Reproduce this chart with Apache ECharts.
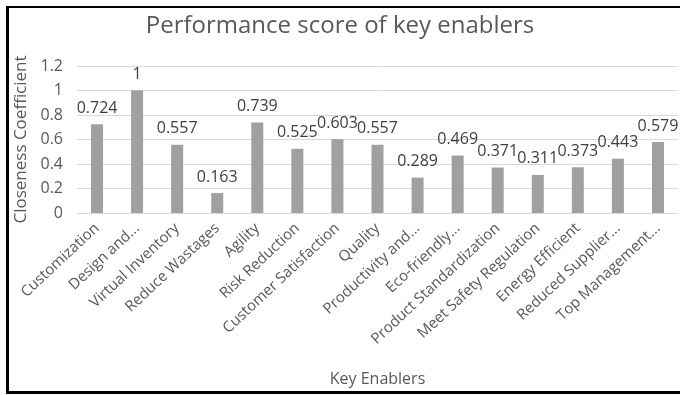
<!DOCTYPE html>
<html>
<head>
<meta charset="utf-8">
<script src="https://cdn.jsdelivr.net/npm/echarts@6/dist/echarts.min.js"></script>
<style>
  body { margin: 0; background: #fff; }
  #frame {
    position: absolute; left: 6px; top: 6px; width: 674px; height: 388px;
    border-left: 3px solid #000; border-top: 2px solid #000; border-bottom: 3px solid #000;
    box-sizing: border-box;
  }
  #chart { position: absolute; left: 0; top: 0; width: 680px; height: 395px; }
</style>
</head>
<body>
<div id="frame"></div>
<div id="chart"></div>
<script>
const categories = [
    'Customization', 'Design and...', 'Virtual Inventory', 'Reduce Wastages', 'Agility',
    'Risk Reduction', 'Customer Satisfaction', 'Quality', 'Productivity and...', 'Eco-friendly...',
    'Product Standardization', 'Meet Safety Regulation', 'Energy Efficient', 'Reduced Supplier...', 'Top Management...'
];
const scores = [0.724, 1, 0.557, 0.163, 0.739, 0.525, 0.603, 0.557, 0.289, 0.469, 0.371, 0.311, 0.373, 0.443, 0.579];
const yTicks = [0, 0.2, 0.4, 0.6, 0.8, 1, 1.2];

const font = '"Open Sans", "Noto Sans", sans-serif';
const myChart = echarts.init(document.getElementById('chart'));

const option = {
    animation: false,
    textStyle: { fontFamily: font },
    title: {
        text: 'Performance score of key enablers',
        left: 'center',
        top: 9,
        textStyle: { fontSize: 24, fontWeight: 'normal', color: '#595959', fontFamily: font }
    },
    grid: { left: 77, right: 2, top: 66, bottom: 182, containLabel: false },
    xAxis: {
        type: 'category',
        data: categories,
        name: 'Key Enablers',
        nameLocation: 'middle',
        nameGap: 158,
        nameTextStyle: { fontSize: 16, color: '#595959' },
        axisLine: { lineStyle: { color: '#d9d9d9' } },
        axisTick: { show: false },
        axisLabel: { rotate: 43, fontSize: 15, color: '#595959', interval: 0, margin: 13 }
    },
    yAxis: {
        type: 'value',
        min: 0,
        max: yTicks[yTicks.length - 1],
        interval: 0.2,
        name: 'Closeness Coefficient',
        nameLocation: 'middle',
        nameGap: 47,
        nameTextStyle: { fontSize: 17, color: '#595959' },
        axisLine: { show: false },
        axisTick: { show: false },
        axisLabel: {
            fontSize: 16, color: '#595959', margin: 14,
            formatter: v => String(Math.round(v * 10) / 10)
        },
        splitLine: { lineStyle: { color: '#d9d9d9' } }
    },
    series: [{
        type: 'bar',
        data: scores,
        barWidth: 12,
        itemStyle: { color: '#a0a0a0' },
        label: {
            show: true,
            position: 'top',
            distance: 8,
            fontSize: 16,
            color: '#404040'
        }
    }]
};
myChart.setOption(option);
</script>
</body>
</html>
